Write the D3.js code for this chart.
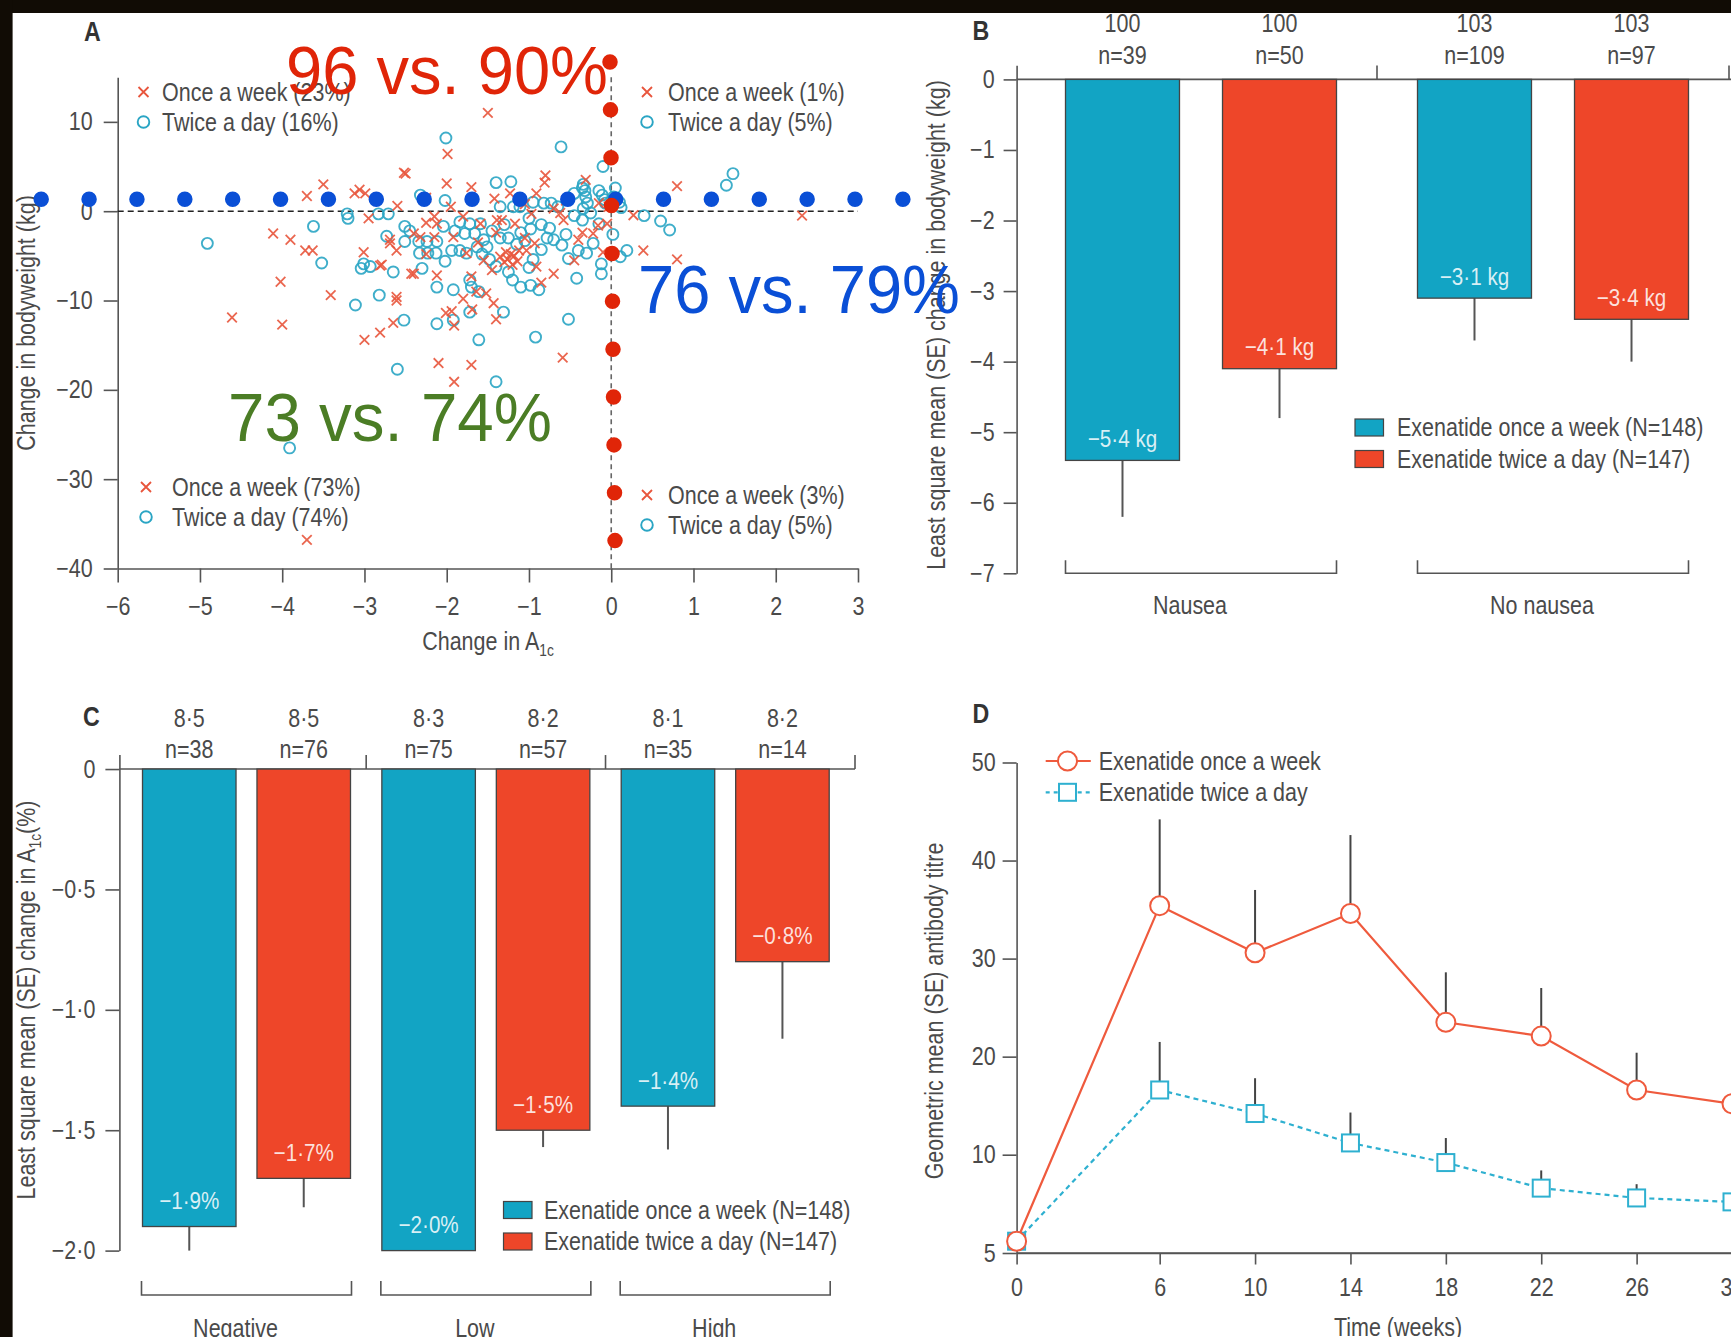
<!DOCTYPE html>
<html>
<head>
<meta charset="utf-8">
<script src="https://cdn.jsdelivr.net/npm/d3@7"></script>
<style>
  html, body { margin: 0; padding: 0; background: #fff; }
  svg { display: block; }
  .lab { font-family: "Liberation Sans", Arial, sans-serif; }
  .big { font-family: "Liberation Sans", Arial, sans-serif; }
</style>
</head>
<body>
<svg id="fig" width="1731" height="1337"></svg>
<script>
// ---------- Panel A: individual change in A1c (%) vs change in bodyweight (kg) ----------
const onceWeeklyPoints = [
  [-1.50, 11.0], [-1.99, 6.4], [-2.50, 4.2], [-3.50, 3.0], [-3.70, 1.7], [-3.06, 2.4], [-3.12, 2.0],
  [-2.99, 2.0], [-2.52, 4.3], [-2.00, 3.1], [-2.60, 0.6], [-1.70, 2.7], [-1.23, 2.0], [-0.80, 4.0],
  [-0.81, 3.2], [-0.91, 2.0], [-0.31, 3.5], [0.80, 2.8], [-1.05, 0.8], [-0.55, 1.2], [-1.95, 0.5],
  [-2.25, 1.5], [-0.15, 0.9], [-1.42, 1.4], [-0.70, 0.3], [-0.03, 0.5],
  [-3.90, -3.2], [-4.11, -2.5], [-3.72, -4.4], [-3.63, -4.4], [-3.01, -4.6], [-2.81, -6.1], [-2.69, -3.2],
  [-3.41, -9.4], [-4.02, -7.9], [-4.61, -11.9], [-4.00, -12.7], [-2.61, -10.0], [-3.00, -14.4],
  [-2.81, -13.6], [-2.65, -12.5], [-2.40, -7.0], [-2.12, -1.4], [-2.15, -2.9], [-1.92, -2.9],
  [-1.76, -4.7], [-1.59, -1.4], [-1.55, -5.5], [-1.52, -9.2], [-1.43, -10.3], [-1.40, -12.1],
  [-1.69, -11.0], [-1.94, -11.2], [-2.01, -11.4], [-1.91, -12.8], [-2.10, -17.0], [-1.91, -19.1],
  [-1.70, -17.2], [-0.59, -16.4], [-3.70, -36.8], [-1.22, -4.8], [-1.26, -5.4], [-1.18, -5.0],
  [-1.30, -5.7], [-1.20, -6.0], [-1.12, -4.4], [-1.35, -5.1], [-1.14, -5.6], [-1.28, -4.6],
  [-0.91, -6.2], [-0.70, -7.0], [-1.03, -4.4], [-1.33, -1.0], [-1.17, -1.4], [-0.97, -0.3],
  [-0.58, -1.0], [-0.40, -3.2], [-0.22, -2.5], [-0.05, -1.4], [0.27, -0.45], [0.39, -4.4],
  [0.80, -5.4], [2.32, -0.5], [-2.32, -2.9], [-2.40, -2.5], [-2.69, -3.6], [-2.61, -4.4],
  [-2.79, -6.0], [-2.43, -7.0], [-2.12, -7.2], [-2.61, -9.6], [-1.64, -9.0], [-1.39, -1.0],
  [-1.40, -2.4], [-0.93, -3.6], [-1.05, -3.0], [-0.35, -2.4], [-0.16, -1.6], [-0.62, -0.2],
  [-1.80, -0.6], [-2.15, -0.6], [-2.25, -1.3], [-1.62, -3.5], [-1.80, -9.8], [-0.85, -8.0],
  [-1.70, -7.3], [-1.45, -6.6], [-0.45, -5.5], [-2.25, -4.8], [-2.95, -0.8], [-0.10, -4.6]
];
const twiceDailyPoints = [
  [-2.01, 8.2], [-0.61, 7.2], [-0.10, 5.0], [-1.40, 3.2], [-1.22, 3.3], [-2.02, 1.2], [-2.32, 1.8],
  [1.48, 4.2], [1.40, 2.9], [-0.34, 3.0], [-0.32, 2.3], [-0.31, 1.6], [-0.29, 0.9], [-0.34, 0.3],
  [-0.11, 1.8], [-0.07, 0.9], [-0.73, 0.9], [-0.65, 0.5], [-0.95, 1.0], [-0.82, 0.9], [-1.35, 0.5],
  [-1.19, 0.5], [-1.11, 0.5], [-0.45, 2.0], [-0.35, 2.6], [-0.15, 2.3], [-0.08, 1.3], [0.10, 1.0],
  [0.05, 2.6], [0.12, 0.4], [0.03, 1.6],
  [-4.91, -3.6], [-3.62, -1.7], [-3.52, -5.8], [-3.21, -0.3], [-2.83, -0.3], [-2.71, -0.3],
  [-3.01, -5.9], [-2.93, -6.2], [-3.04, -6.4], [-2.51, -1.7], [-2.73, -2.8], [-2.51, -3.4],
  [-2.34, -3.4], [-2.24, -3.4], [-2.12, -3.4], [-2.33, -4.7], [-2.23, -4.7], [-2.13, -4.7],
  [-2.30, -6.4], [-2.04, -1.7], [-1.94, -4.4], [-1.84, -4.4], [-1.76, -4.7], [-1.84, -1.2],
  [-1.72, -1.4], [-1.59, -1.4], [-1.78, -2.5], [-1.66, -2.5], [-1.63, -4.0], [-1.51, -4.0],
  [-1.57, -4.8], [-1.48, -5.4], [-1.35, -3.0], [-1.25, -3.0], [-1.15, -3.7], [-1.05, -3.3],
  [-0.85, -1.5], [-0.75, -1.9], [-0.78, -3.0], [-0.70, -3.2], [-0.98, -2.0], [-1.10, -2.4],
  [-0.45, -0.5], [-0.35, -1.0], [-0.25, -0.2], [-0.15, -1.4], [-0.22, -3.6], [-0.52, -5.3],
  [-0.40, -4.4], [-0.30, -4.7], [-0.12, -5.9], [-0.12, -7.0], [-0.42, -7.5], [-1.10, -8.5],
  [-0.98, -8.3], [-0.88, -8.8], [-1.20, -7.7], [-2.12, -8.5], [-1.92, -8.8], [-1.72, -7.7],
  [-1.70, -8.5], [-1.61, -9.0], [-2.12, -12.6], [-1.92, -12.2], [-1.72, -11.3], [-1.31, -11.3],
  [-0.52, -12.1], [-0.92, -14.1], [-1.61, -14.4], [-2.52, -12.2], [-3.11, -10.5], [-2.82, -9.4],
  [-2.60, -17.7], [-1.40, -19.1], [-3.91, -26.5], [0.40, -0.5], [0.60, -1.1], [0.71, -2.1],
  [0.19, -4.4], [0.11, -5.1], [-1.00, -0.8], [-1.30, -1.5], [-1.45, -2.2], [-1.90, -2.2],
  [-2.45, -2.2], [-2.65, -6.8], [-1.40, -6.2], [-1.25, -6.8], [-0.95, -5.4], [-0.85, -4.3],
  [-0.60, -3.8], [-0.55, -2.6], [-1.00, -6.3], [-1.55, -3.2], [-2.02, -5.6], [-3.20, -0.8], [0.02, -2.6]
];
const a1cTicks = [-6, -5, -4, -3, -2, -1, 0, 1, 2, 3];
const weightTicks = [-40, -30, -20, -10, 0, 10];
const quadrantOnce = ["Once a week (23%)", "Once a week (1%)", "Once a week (73%)", "Once a week (3%)"];
const quadrantTwice = ["Twice a day (16%)", "Twice a day (5%)", "Twice a day (74%)", "Twice a day (5%)"];
// highlighted responder cut-offs: dotted row (weight) and dotted column (A1c)
const weightCutoffRow = [[-6.93, 1.34], [3.55, 1.34]];
const a1cCutoffColumn = [[-0.015, 16.7], [0.046, -36.9]];
const responderText = ["96 vs. 90%", "76 vs. 79%", "73 vs. 74%"];

// ---------- Panel B: bodyweight change by nausea ----------
const nauseaGroups = ["Nausea", "No nausea"];
const weightChange = [[-5.4, -4.1], [-3.1, -3.4]];
const weightLowerSE = [[-6.2, -4.8], [-3.7, -4.0]];
const weightBaseline = [["100", "100"], ["103", "103"]];
const weightN = [["n=39", "n=50"], ["n=109", "n=97"]];
const weightTickValues = [-7, -6, -5, -4, -3, -2, -1, 0];

// ---------- Panel C: A1c change by antibody titre ----------
const antibodyGroups = ["Negative", "Low", "High"];
const a1cChange = [[-1.9, -1.7], [-2.0, -1.5], [-1.4, -0.8]];
const a1cLowerSE = [[-2.0, -1.82], [null, -1.57], [-1.58, -1.12]];
const a1cBaseline = [["8·5", "8·5"], ["8·3", "8·2"], ["8·1", "8·2"]];
const a1cN = [["n=38", "n=76"], ["n=75", "n=57"], ["n=35", "n=14"]];
const a1cTickValues = [-2.0, -1.5, -1.0, -0.5, 0];

// ---------- Panel D: antibody titres over time ----------
const weeks = [0, 6, 10, 14, 18, 22, 26, 30];
const titreOnceWeekly = [5.6, 35.4, 30.6, 34.6, 23.5, 22.1, 16.6, 15.2];
const titreOnceWeeklyUpper = [null, 44.2, 37.0, 42.6, 28.6, 27.0, 20.4, 18.7];
const titreTwiceDaily = [5.6, 16.6, 14.2, 11.2, 9.6, 8.3, 7.8, 7.6];
const titreTwiceDailyUpper = [null, 21.5, 17.8, 14.3, 11.7, 9.2, 8.5, 8.3];
const titreTicks = [5, 10, 20, 30, 40, 50];

const treatments = ["Exenatide once a week (N=148)", "Exenatide twice a day (N=147)"];
const lineSeriesNames = ["Exenatide once a week", "Exenatide twice a day"];

// ---------- drawing ----------
const W = 1731, H = 1337;
const INK = "#4a4a4a", AXIS = "#555";
const BAR_COLORS = ["#12a4c4", "#ee4629"];
const PT_RED = "#e8553c", PT_CYAN = "#2aa5c4";
const FS = 25;
const SQ = 0.86;   // horizontal condensing of the label face

const svg = d3.select("#fig");
svg.append("rect").attr("width", W).attr("height", H).attr("fill", "#fff");

const fmt = v => (v < 0 ? "\u2212" : "") + Math.abs(v).toFixed(1).replace(".", "·");
const intFmt = v => (v < 0 ? "\u2212" + (-v) : String(v));

// move x/y into a transform so the glyphs can be condensed around their anchor
function squeeze(sel) {
  sel.each(function () {
    const t = d3.select(this);
    const x = +t.attr("x") || 0, y = +t.attr("y") || 0;
    t.attr("x", null).attr("y", null).attr("transform", `translate(${x},${y}) scale(${SQ},1)`);
  });
}
function styleAxis(g, fs) {
  g.select(".domain").attr("stroke", AXIS).attr("stroke-width", 1.6);
  g.selectAll(".tick line").attr("stroke", AXIS).attr("stroke-width", 1.6);
  g.selectAll(".tick text").attr("class", "lab").attr("fill", INK).attr("font-size", fs || FS).call(squeeze);
}
function label(g, x, y, txt, opts = {}) {
  return g.append("text").attr("class", "lab").attr("x", x).attr("y", y)
    .attr("text-anchor", opts.anchor || "middle").attr("dy", opts.dy || "0.35em")
    .attr("font-size", opts.fs || FS).attr("fill", opts.fill || INK)
    .attr("font-weight", opts.weight || null).text(txt).call(squeeze);
}
function rotLabel(g, cx, cy, parts) {
  const t = g.append("text").attr("class", "lab")
    .attr("transform", `translate(${cx},${cy}) rotate(-90) scale(${SQ},1)`)
    .attr("text-anchor", "middle").attr("dy", "0.35em").attr("font-size", FS).attr("fill", INK);
  parts.forEach(p => {
    const s = t.append("tspan").text(p.t);
    if (p.sub) s.attr("font-size", 16).attr("dy", 6);
    if (p.after) s.attr("dy", -6);
  });
  return t;
}
const crossPath = s => `M${-s},${-s}L${s},${s}M${-s},${s}L${s},${-s}`;

// ===== Panel A =====
const gA = svg.append("g");
const xA = d3.scaleLinear().domain([-6, 3]).range([117.7, 858]);
const yA = d3.scaleLinear().domain([-40, 15]).range([568.5, 77.2]);

gA.append("g").attr("transform", `translate(0,${yA(-40)})`)
  .call(d3.axisBottom(xA).tickValues(a1cTicks).tickSize(14).tickSizeOuter(0).tickPadding(15).tickFormat(intFmt))
  .call(g => styleAxis(g));
gA.append("g").attr("transform", `translate(${xA(-6)},0)`)
  .call(d3.axisLeft(yA).tickValues(weightTicks).tickSize(14).tickSizeOuter(0).tickPadding(11).tickFormat(intFmt))
  .call(g => styleAxis(g));

// reference lines at zero
gA.append("line").attr("x1", xA(-6)).attr("x2", xA(3)).attr("y1", yA(0)).attr("y2", yA(0))
  .attr("stroke", "#222").attr("stroke-width", 1.6).attr("stroke-dasharray", "6,4");
gA.append("line").attr("x1", xA(0)).attr("x2", xA(0)).attr("y1", yA(15)).attr("y2", yA(-40))
  .attr("stroke", "#666").attr("stroke-width", 1.6).attr("stroke-dasharray", "5,4");

gA.append("g").selectAll("circle").data(twiceDailyPoints).join("circle")
  .attr("cx", d => xA(d[0])).attr("cy", d => yA(d[1])).attr("r", 5.5)
  .attr("fill", "none").attr("stroke", PT_CYAN).attr("stroke-width", 1.9).attr("opacity", 0.9);
gA.append("g").selectAll("path").data(onceWeeklyPoints).join("path")
  .attr("transform", d => `translate(${xA(d[0])},${yA(d[1])})`).attr("d", crossPath(4.8))
  .attr("stroke", PT_RED).attr("stroke-width", 1.8).attr("fill", "none").attr("opacity", 0.9);

// quadrant legends
const quadPos = [[143.5, 92, 162], [647, 92, 668], [146, 487, 172], [647, 495, 668]];
quadPos.forEach(([mx, my, tx], i) => {
  gA.append("path").attr("transform", `translate(${mx},${my})`).attr("d", crossPath(5))
    .attr("stroke", PT_RED).attr("stroke-width", 1.8);
  gA.append("circle").attr("cx", mx).attr("cy", my + 30).attr("r", 5.8)
    .attr("fill", "none").attr("stroke", PT_CYAN).attr("stroke-width", 1.9);
  label(gA, tx, my, quadrantOnce[i], { anchor: "start" });
  label(gA, tx, my + 30, quadrantTwice[i], { anchor: "start" });
});

const xtA = gA.append("text").attr("class", "lab").attr("x", 488).attr("y", 650)
  .attr("text-anchor", "middle").attr("font-size", FS).attr("fill", INK);
xtA.append("tspan").text("Change in A");
xtA.append("tspan").text("1c").attr("font-size", 16).attr("dy", 6);
xtA.call(squeeze);
rotLabel(gA, 26, 323, [{ t: "Change in bodyweight (kg)" }]);
label(gA, 92.5, 32, "A", { fs: 27, weight: "bold", fill: "#333" });

// ===== Panel B =====
const gB = svg.append("g");
const yB = d3.scaleLinear().domain([-7, 0.2]).range([573.3, 65.3]);
const groupB = d3.scalePoint().domain(nauseaGroups).range([1201, 1553]);
const innerB = d3.scaleBand().domain([0, 1]).range([-135.5, 135.5]).paddingInner(0.274);
const axB = 1016.6;

gB.append("g").attr("transform", `translate(${axB},0)`)
  .call(d3.axisLeft(yB).tickValues(weightTickValues).tickSize(13).tickSizeOuter(0).tickPadding(9).tickFormat(intFmt))
  .call(g => styleAxis(g));
gB.append("line").attr("x1", axB).attr("x2", W).attr("y1", yB(0)).attr("y2", yB(0))
  .attr("stroke", AXIS).attr("stroke-width", 1.6);
nauseaGroups.forEach(g => {
  const bx = groupB(g) + groupB.step() / 2;
  gB.append("line").attr("x1", bx).attr("x2", bx).attr("y1", yB(0)).attr("y2", yB(0) - 14)
    .attr("stroke", AXIS).attr("stroke-width", 1.6);
});

nauseaGroups.forEach((g, gi) => {
  [0, 1].forEach(si => {
    const x0 = groupB(g) + innerB(si), bw = innerB.bandwidth(), cx = x0 + bw / 2;
    const v = weightChange[gi][si];
    gB.append("line").attr("x1", cx).attr("x2", cx).attr("y1", yB(v)).attr("y2", yB(weightLowerSE[gi][si]))
      .attr("stroke", "#555").attr("stroke-width", 2);
    gB.append("rect").attr("x", x0).attr("y", yB(0)).attr("width", bw).attr("height", yB(v) - yB(0))
      .attr("fill", BAR_COLORS[si]).attr("stroke", "#444").attr("stroke-width", 1.3);
    label(gB, cx, yB(v) - 22, fmt(v) + " kg", { fs: 24, fill: "rgba(255,255,255,0.85)" });
    label(gB, cx, 23, weightBaseline[gi][si]);
    label(gB, cx, 55, weightN[gi][si]);
  });
  const left = groupB(g) + innerB(0), right = groupB(g) + innerB(1) + innerB.bandwidth();
  gB.append("path").attr("d", `M${left},${yB(-7) - 13}V${yB(-7)}H${right}V${yB(-7) - 13}`)
    .attr("fill", "none").attr("stroke", AXIS).attr("stroke-width", 1.6);
  label(gB, (left + right) / 2 - 11, 605, g);
});
rotLabel(gB, 936, 325, [{ t: "Least square mean (SE) change in bodyweight (kg)" }]);
label(gB, 981, 31, "B", { fs: 27, weight: "bold", fill: "#333" });

function barLegend(g, x, y, tx) {
  treatments.forEach((t, i) => {
    g.append("rect").attr("x", x).attr("y", y + i * 31.5).attr("width", 28.5).attr("height", 17)
      .attr("fill", BAR_COLORS[i]).attr("stroke", "#444").attr("stroke-width", 1.2);
    label(g, tx, y + 8.5 + i * 31.5, t, { anchor: "start" });
  });
}
barLegend(gB, 1355, 419, 1397);

// ===== Panel C =====
const gC = svg.append("g");
const yC = d3.scaleLinear().domain([-2, 0.06]).range([1250.6, 754.6]);
const groupC = d3.scalePoint().domain(antibodyGroups).range([246.5, 725.2]);
const innerC = d3.scaleBand().domain([0, 1]).range([-104, 104]).paddingInner(0.183);
const axC = 119.4;

gC.append("g").attr("transform", `translate(${axC},0)`)
  .call(d3.axisLeft(yC).tickValues(a1cTickValues).tickSize(14).tickSizeOuter(0).tickPadding(10)
    .tickFormat(d => d === 0 ? "0" : fmt(d)))
  .call(g => styleAxis(g));
gC.append("line").attr("x1", axC).attr("x2", 855).attr("y1", yC(0)).attr("y2", yC(0))
  .attr("stroke", AXIS).attr("stroke-width", 1.6);
antibodyGroups.forEach((g, gi) => {
  const bx = gi === antibodyGroups.length - 1 ? 855 : groupC(g) + groupC.step() / 2;
  gC.append("line").attr("x1", bx).attr("x2", bx).attr("y1", yC(0)).attr("y2", yC(0) - 14)
    .attr("stroke", AXIS).attr("stroke-width", 1.6);
});
antibodyGroups.forEach((g, gi) => {
  [0, 1].forEach(si => {
    const x0 = groupC(g) + innerC(si), bw = innerC.bandwidth(), cx = x0 + bw / 2;
    const v = a1cChange[gi][si], lo = a1cLowerSE[gi][si];
    if (lo !== null) {
      gC.append("line").attr("x1", cx).attr("x2", cx).attr("y1", yC(v)).attr("y2", yC(lo))
        .attr("stroke", "#555").attr("stroke-width", 2);
    }
    gC.append("rect").attr("x", x0).attr("y", yC(0)).attr("width", bw).attr("height", yC(v) - yC(0))
      .attr("fill", BAR_COLORS[si]).attr("stroke", "#444").attr("stroke-width", 1.3);
    label(gC, cx, yC(v) - 26, fmt(v) + "%", { fs: 24, fill: "rgba(255,255,255,0.85)" });
    label(gC, cx, 718, a1cBaseline[gi][si]);
    label(gC, cx, 749, a1cN[gi][si]);
  });
  const left = groupC(g) + innerC(0) - 1, right = groupC(g) + innerC(1) + innerC.bandwidth() + 1;
  gC.append("path").attr("d", `M${left},1281V1295H${right}V1281`)
    .attr("fill", "none").attr("stroke", AXIS).attr("stroke-width", 1.6);
  label(gC, (left + right) / 2 - 11, 1328, g);
});
rotLabel(gC, 26, 1000, [{ t: "Least square mean (SE) change in A" }, { t: "1c", sub: true }, { t: "(%)", after: true }]);
label(gC, 91.5, 717, "C", { fs: 27, weight: "bold", fill: "#333" });
barLegend(gC, 503.5, 1201.5, 544);

// ===== Panel D =====
const gD = svg.append("g");
const xD = d3.scaleLinear().domain([0, 30]).range([1016.6, 1732]);
const yD = d3.scaleLinear().domain([5, 10, 50]).range([1253, 1154.7, 762.5]);

gD.append("g").attr("transform", `translate(0,${yD(5)})`)
  .call(d3.axisBottom(xD).tickValues(weeks).tickSize(11.5).tickSizeOuter(0).tickPadding(14))
  .call(g => styleAxis(g));
gD.append("line").attr("x1", xD(0)).attr("x2", W).attr("y1", yD(5)).attr("y2", yD(5))
  .attr("stroke", AXIS).attr("stroke-width", 1.6);
gD.append("g").attr("transform", `translate(${xD(0)},0)`)
  .call(d3.axisLeft(yD).tickValues(titreTicks).tickSize(14).tickSizeOuter(0).tickPadding(7))
  .call(g => styleAxis(g));

const RED_LINE = "#ef5a3d", CYAN_LINE = "#2eb0d0";
const lineD = d3.line().x((d, i) => xD(weeks[i])).y(d => yD(d));

// error bars (upper SE)
[[titreTwiceDaily, titreTwiceDailyUpper], [titreOnceWeekly, titreOnceWeeklyUpper]].forEach(([vals, up]) => {
  gD.append("g").selectAll("line").data(vals.map((v, i) => [weeks[i], v, up[i]]).filter(d => d[2] !== null))
    .join("line").attr("x1", d => xD(d[0])).attr("x2", d => xD(d[0]))
    .attr("y1", d => yD(d[1])).attr("y2", d => yD(d[2])).attr("stroke", "#444").attr("stroke-width", 2);
});
gD.append("path").attr("d", lineD(titreTwiceDaily)).attr("fill", "none").attr("stroke", CYAN_LINE)
  .attr("stroke-width", 2.2).attr("stroke-dasharray", "5,4");
gD.append("g").selectAll("rect").data(titreTwiceDaily).join("rect")
  .attr("x", (d, i) => xD(weeks[i]) - 8.5).attr("y", d => yD(d) - 8.5).attr("width", 17).attr("height", 17)
  .attr("fill", "#fff").attr("stroke", CYAN_LINE).attr("stroke-width", 2);
gD.append("path").attr("d", lineD(titreOnceWeekly)).attr("fill", "none").attr("stroke", RED_LINE).attr("stroke-width", 2.2);
gD.append("g").selectAll("circle").data(titreOnceWeekly).join("circle")
  .attr("cx", (d, i) => xD(weeks[i])).attr("cy", d => yD(d)).attr("r", 9.5)
  .attr("fill", "#fff").attr("stroke", RED_LINE).attr("stroke-width", 2);

// legend
gD.append("line").attr("x1", 1045.7).attr("x2", 1090.8).attr("y1", 761).attr("y2", 761)
  .attr("stroke", RED_LINE).attr("stroke-width", 2.2);
gD.append("circle").attr("cx", 1067.5).attr("cy", 761).attr("r", 9.5).attr("fill", "#fff")
  .attr("stroke", RED_LINE).attr("stroke-width", 2);
gD.append("line").attr("x1", 1045.7).attr("x2", 1090.8).attr("y1", 792.3).attr("y2", 792.3)
  .attr("stroke", CYAN_LINE).attr("stroke-width", 2.2).attr("stroke-dasharray", "4,4");
gD.append("rect").attr("x", 1059).attr("y", 783.8).attr("width", 17).attr("height", 17).attr("fill", "#fff")
  .attr("stroke", CYAN_LINE).attr("stroke-width", 2);
label(gD, 1098.7, 761, lineSeriesNames[0], { anchor: "start" });
label(gD, 1098.7, 792.3, lineSeriesNames[1], { anchor: "start" });

label(gD, 1398, 1327, "Time (weeks)");
rotLabel(gD, 934.4, 1011, [{ t: "Geometric mean (SE) antibody titre" }]);
label(gD, 981, 713.5, "D", { fs: 27, weight: "bold", fill: "#333" });

// ===== responder annotations over panel A =====
const gO = svg.append("g");
function dotLine(pts, color, count) {
  const [a, b] = pts;
  const x1 = xA(a[0]), y1 = yA(a[1]), x2 = xA(b[0]), y2 = yA(b[1]);
  const len = Math.hypot(x2 - x1, y2 - y1);
  gO.append("line").attr("x1", x1).attr("y1", y1).attr("x2", x2).attr("y2", y2)
    .attr("stroke", color).attr("stroke-width", 15.5).attr("stroke-linecap", "round")
    .attr("stroke-dasharray", `0,${len / (count - 1) - 0.02}`);
}
dotLine(weightCutoffRow, "#0a4fd6", 19);
dotLine(a1cCutoffColumn, "#e02508", 11);

const annot = [
  { t: responderText[0], x: 286, y: 94, w: 322, c: "#e02508", fs: 69 },
  { t: responderText[1], x: 638, y: 313, w: 322, c: "#0a4fd6", fs: 68 },
  { t: responderText[2], x: 228, y: 441, w: 324, c: "#4b7d25", fs: 68 }
];
annot.forEach(a => {
  gO.append("text").attr("class", "big").attr("x", a.x).attr("y", a.y).attr("font-size", a.fs)
    .attr("fill", a.c).attr("textLength", a.w).attr("lengthAdjust", "spacingAndGlyphs").text(a.t);
});

// dark frame bands at the top and left edges
svg.append("rect").attr("x", 0).attr("y", 0).attr("width", W).attr("height", 13).attr("fill", "#110c05");
svg.append("rect").attr("x", 0).attr("y", 0).attr("width", 12.6).attr("height", H).attr("fill", "#110c05");
</script>
</body>
</html>
